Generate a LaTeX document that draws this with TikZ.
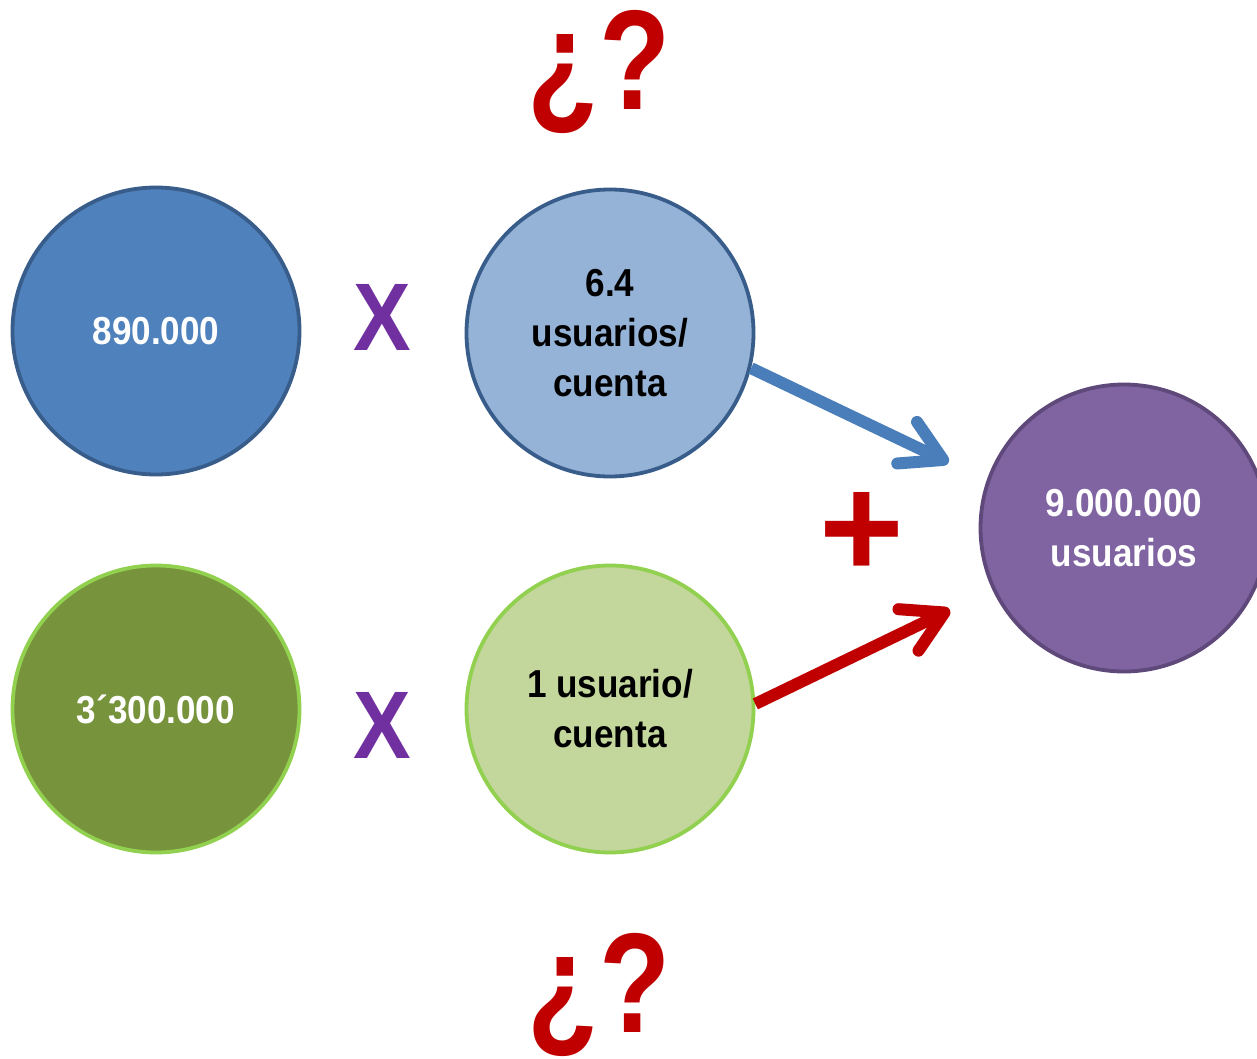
\documentclass[tikz,border=0pt]{standalone}
\usepackage{fontspec}
\setmainfont{Liberation Sans}
\newfontfamily\condf{Liberation Sans}[FakeStretch=0.9]
\newfontfamily\qmf{Liberation Sans}[FakeStretch=0.82]
\usetikzlibrary{arrows.meta}
\definecolor{cA}{HTML}{4F81BD}
\definecolor{cAb}{HTML}{385D8A}
\definecolor{cB}{HTML}{95B3D7}
\definecolor{cC}{HTML}{77933C}
\definecolor{cCb}{HTML}{92D050}
\definecolor{cD}{HTML}{C3D69B}
\definecolor{cE}{HTML}{8064A2}
\definecolor{cEb}{HTML}{5F497A}
\definecolor{arrBlue}{HTML}{4A7EBB}
\definecolor{myRed}{HTML}{C00000}
\definecolor{myPurple}{HTML}{7030A0}
\begin{document}
\begin{tikzpicture}[x=1pt,y=-1pt,
  ball/.style={circle, minimum size=287pt, inner sep=0pt, line width=3.8pt, align=center,
    font=\condf\bfseries\fontsize{39}{50}\selectfont},
  timesign/.style={inner sep=0pt, text=myPurple, font=\condf\bfseries\fontsize{96}{96}\selectfont},
  plussign/.style={inner sep=0pt, anchor=base, text=myRed, font=\bfseries\fontsize{145}{145}\selectfont},
  qmark/.style={inner sep=0pt, anchor=base, text=myRed, font=\qmf\bfseries\fontsize{142}{142}\selectfont},
  arr/.style={line width=12pt, -{Straight Barb[length=40pt,width=46pt,round]}}
]
\useasboundingbox (0,0) rectangle (1257,1059);
\fill[white] (0,0) rectangle (1257,1059);

\node[ball, fill=cA, draw=cAb, text=white] (A) at (156,331) {890.000};
\node[ball, fill=cB, draw=cAb, text=black] (B) at (610,333) {6.4\\usuarios/\\cuenta};
\node[ball, fill=cC, draw=cCb, text=white] (C) at (156,709) {3´300.000};
\node[ball, fill=cD, draw=cCb, text=black] (D) at (610,709) {1 usuario/\\cuenta};
\node[ball, fill=cE, draw=cEb, text=white] (E) at (1124,528) {9.000.000\\usuarios};

\node[timesign] (x1) at (382.5,317.5) {X};
\node[timesign] (x2) at (382.5,725) {X};
\node[plussign] (plus) at (861.5,577.5) {+};

\node[qmark] (q1) at (599,110) {¿?};
\node[qmark] (q2) at (599,1032) {¿?};

\draw[arr, draw=arrBlue, shorten >=42pt] (B.-14) -- (E.161);
\draw[arr, draw=myRed, shorten >=47pt] (D.2) -- (E.205);
\end{tikzpicture}
\end{document}
